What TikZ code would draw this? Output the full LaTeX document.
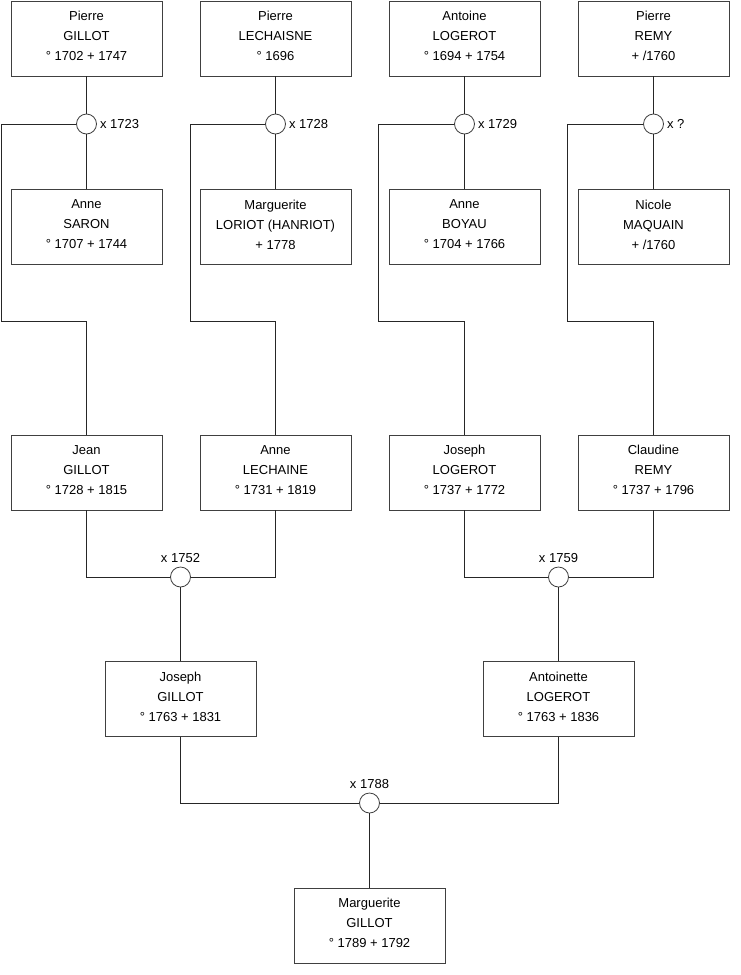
\documentclass[tikz,border=0pt]{standalone}
\usepackage{fontspec}
\setmainfont{Liberation Sans}
\usetikzlibrary{positioning}
\begin{document}
\begin{tikzpicture}[x=1pt,y=-1pt,
  person/.style={draw=black!75,line width=0.8pt,minimum width=151pt,minimum height=75pt,
    inner sep=0pt,text depth=5pt,align=center,font=\fontsize{13}{20}\selectfont},
  wed/.style={draw=black!75,line width=0.8pt,circle,minimum size=20pt,inner sep=0pt,fill=white},
  wedlabel/.style={inner sep=1pt,font=\fontsize{13}{15}\selectfont},
  link/.style={draw=black!85,line width=0.8pt}]
\useasboundingbox (0,0) rectangle (740,975);
% generation 1
\node[person] (pg) at (86.5,38.5) {Pierre\\GILLOT\\° 1702 + 1747};
\node[person] (pl) at (275.5,38.5) {Pierre\\LECHAISNE\\° 1696};
\node[person] (al) at (464.5,38.5) {Antoine\\LOGEROT\\° 1694 + 1754};
\node[person] (pr) at (653.5,38.5) {Pierre\\REMY\\+ /1760};
\node[person] (as) at (86.5,227) {Anne\\SARON\\° 1707 + 1744};
\node[person] (ml) at (275.5,227) {Marguerite\\LORIOT (HANRIOT)\\+ 1778};
\node[person] (ab) at (464.5,227) {Anne\\BOYAU\\° 1704 + 1766};
\node[person] (nm) at (653.5,227) {Nicole\\MAQUAIN\\+ /1760};
\node[wed] (x1723) at (86.5,124) {};
\node[wed] (x1728) at (275.5,124) {};
\node[wed] (x1729) at (464.5,124) {};
\node[wed] (x1x) at (653.5,124) {};
\node[wedlabel,right=2pt of x1723] {x 1723};
\node[wedlabel,right=2pt of x1728] {x 1728};
\node[wedlabel,right=2pt of x1729] {x 1729};
\node[wedlabel,right=2pt of x1x] {x ?};
% generation 2
\node[person] (jg) at (86.5,472.5) {Jean\\GILLOT\\° 1728 + 1815};
\node[person] (alc) at (275.5,472.5) {Anne\\LECHAINE\\° 1731 + 1819};
\node[person] (jl) at (464.5,472.5) {Joseph\\LOGEROT\\° 1737 + 1772};
\node[person] (cr) at (653.5,472.5) {Claudine\\REMY\\° 1737 + 1796};
\coordinate (k1) at (1.5,321);
\coordinate (k2) at (190.5,321);
\coordinate (k3) at (378.5,321);
\coordinate (k4) at (567.5,321);
\draw[link] (pg.south) -- (x1723.north) (x1723.south) -- (as.north);
\draw[link] (pl.south) -- (x1728.north) (x1728.south) -- (ml.north);
\draw[link] (al.south) -- (x1729.north) (x1729.south) -- (ab.north);
\draw[link] (pr.south) -- (x1x.north) (x1x.south) -- (nm.north);
\draw[link] (x1723.west) -| (k1) -| (jg.north);
\draw[link] (x1728.west) -| (k2) -| (alc.north);
\draw[link] (x1729.west) -| (k3) -| (jl.north);
\draw[link] (x1x.west) -| (k4) -| (cr.north);
% generation 3
\node[wed] (x1752) at (180.5,577) {};
\node[wed] (x1759) at (558.5,577) {};
\node[wedlabel,above=3pt of x1752] {x 1752};
\node[wedlabel,above=3pt of x1759] {x 1759};
\draw[link] (jg.south) |- (x1752.west) (alc.south) |- (x1752.east);
\draw[link] (jl.south) |- (x1759.west) (cr.south) |- (x1759.east);
\node[person] (jgi) at (180.5,699) {Joseph\\GILLOT\\° 1763 + 1831};
\node[person] (alo) at (558.5,699) {Antoinette\\LOGEROT\\° 1763 + 1836};
\draw[link] (x1752.south) -- (jgi.north);
\draw[link] (x1759.south) -- (alo.north);
% generation 4
\node[wed] (x1788) at (369.5,803) {};
\node[wedlabel,above=3pt of x1788] {x 1788};
\draw[link] (jgi.south) |- (x1788.west) (alo.south) |- (x1788.east);
\node[person] (mg) at (369.5,925.5) {Marguerite\\GILLOT\\° 1789 + 1792};
\draw[link] (x1788.south) -- (mg.north);
\end{tikzpicture}
\end{document}
